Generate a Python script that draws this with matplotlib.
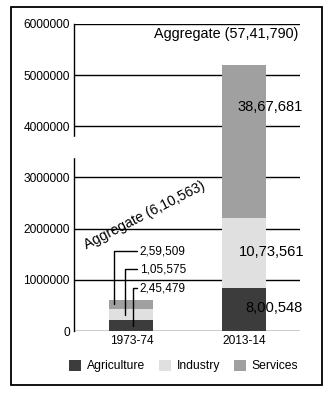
import matplotlib.pyplot as plt
from matplotlib.patches import Rectangle, Patch
import matplotlib.transforms as mtransforms

plt.rcParams['font.family'] = ['Liberation Sans', 'DejaVu Sans']

# ---------------------------------------------------------------------------
# data (bar heights as drawn in the picture, labels as printed)
# ---------------------------------------------------------------------------
years = ['1973-74', '2013-14']
sectors = ['Agriculture', 'Industry', 'Services']
agriculture = [210000, 850000]
industry = [220000, 1350000]
services = [180000, 3000000]
colors = ['#3c3c3c', '#e0e0e0', '#a0a0a0']

labels_7374 = ['2,59,509', '1,05,575', '2,45,479']
labels_1314 = ['38,67,681', '10,73,561', '8,00,548']
aggregate = ['Aggregate (6,10,563)', 'Aggregate (57,41,790)']
yticks = [0, 1000000, 2000000, 3000000, 4000000, 5000000, 6000000]

fig = plt.figure(figsize=(3.3, 4.0), dpi=100)
ax = fig.add_axes([0.224, 0.1725, 0.685, 0.7675])

x = [0, 1]
w = 0.39
bottom2 = [a + i for a, i in zip(agriculture, industry)]
ax.bar(x, agriculture, w, color=colors[0], zorder=3)
ax.bar(x, industry, w, bottom=agriculture, color=colors[1], zorder=3)
ax.bar(x, services, w, bottom=bottom2, color=colors[2], zorder=3)

ax.set_xlim(-0.511, 1.498)
ax.set_ylim(0, 6000000)
ax.set_yticks(yticks)
ax.set_yticklabels([str(v) for v in yticks], fontsize=8.6)
ax.set_xticks(x)
ax.set_xticklabels(years, fontsize=8.6)
ax.tick_params(length=0, pad=3)
ax.grid(axis='y', color='black', lw=1.0, zorder=1)
ax.set_axisbelow(True)
for s in ['top', 'right', 'bottom']:
    ax.spines[s].set_visible(False)
ax.spines['left'].set_linewidth(1.0)

# break in the left axis line
trans = mtransforms.blended_transform_factory(ax.transAxes, ax.transData)
ax.add_patch(Rectangle((-0.03, 3400000), 0.06, 400000, transform=trans,
                       color='white', clip_on=False, zorder=5))

# leader lines for the first bar
mids = [agriculture[0] + industry[0] + services[0] / 2,
        agriculture[0] + industry[0] / 2,
        agriculture[0] / 2]
xs = [-0.156, -0.058, 0.013]
ys = [1560000, 1210000, 840000]
for lab, xm, ym, yt in zip(labels_7374, xs, mids, ys):
    ax.annotate(lab, xy=(xm, ym), xytext=(0.075, yt), fontsize=8.5,
                ha='left', va='center', zorder=6,
                arrowprops=dict(arrowstyle='-', lw=1.0, color='black',
                                shrinkA=0, shrinkB=0,
                                connectionstyle='angle,angleA=0,angleB=90,rad=0'))

# labels for the second bar
ax.text(0.94, 4370000, labels_1314[0], fontsize=10.6, ha='left', va='center', zorder=6)
ax.text(0.955, 1540000, labels_1314[1], fontsize=10.6, ha='left', va='center', zorder=6)
ax.text(1.01, 450000, labels_1314[2], fontsize=10.6, ha='left', va='center', zorder=6)

ax.text(0.12, 2270000, aggregate[0], fontsize=10.2, rotation=27,
        ha='center', va='center', zorder=6)
ax.text(0.84, 5800000, aggregate[1], fontsize=10.4, ha='center', va='center',
        zorder=6, bbox=dict(facecolor='white', edgecolor='none', pad=1))

handles = [Patch(facecolor=c, edgecolor='none') for c in colors]
fig.legend(handles, sectors, loc='center', bbox_to_anchor=(0.557, 0.085),
           ncol=3, frameon=False, fontsize=8.7, handlelength=1.0,
           handleheight=1.0, handletextpad=0.5, columnspacing=1.1)

fig.patches.append(Rectangle((11 / 330, 0.0375), 311 / 330, 0.945,
                             transform=fig.transFigure, fill=False,
                             edgecolor='black', lw=1.3))

fig.savefig('out.png', dpi=100)
